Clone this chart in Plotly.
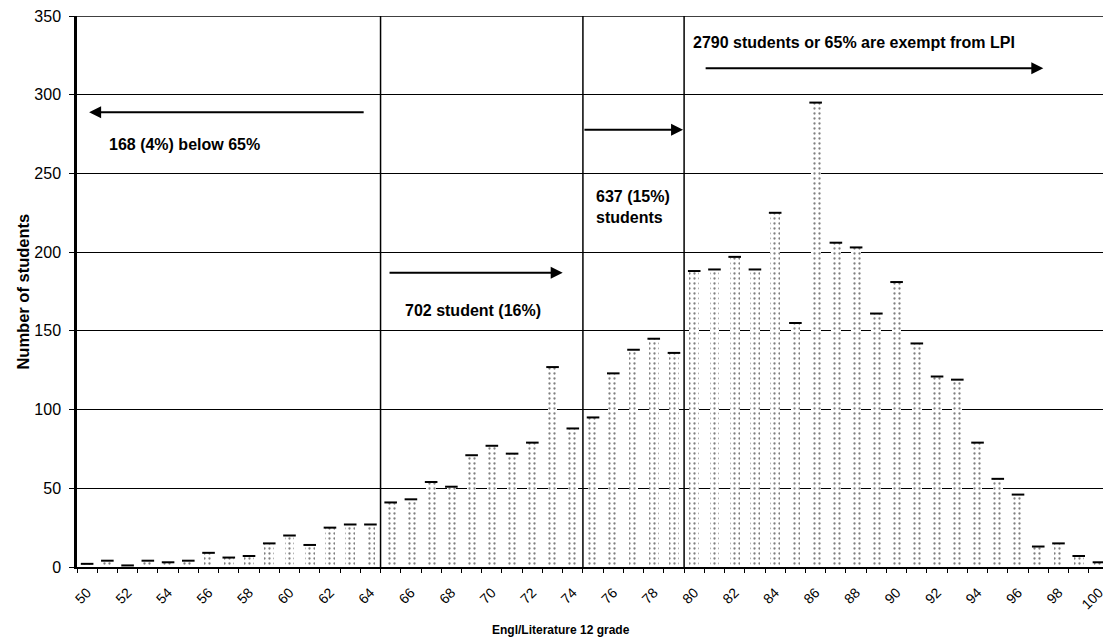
import plotly.graph_objects as go

grades = list(range(50, 101))
counts = [2, 4, 1, 4, 3, 4, 9, 6, 7, 15, 20, 14, 25, 27, 27,
          41, 43, 54, 51, 71, 77, 72, 79, 127, 88,
          95, 123, 138, 145, 136,
          188, 189, 197, 189, 225, 155, 295, 206, 203, 161, 181, 142, 121, 119, 79, 56, 46, 13, 15, 7, 3]

x_tick_vals = list(range(50, 101, 2))
x_tick_text = [str(v) for v in x_tick_vals]
y_tick_vals = list(range(0, 351, 50))

cut_lines = [64.5, 74.5, 79.5]

FONT = "Arial, Liberation Sans, sans-serif"

fig = go.Figure()
fig.add_trace(go.Bar(
    x=grades, y=counts, width=0.48,
    marker=dict(color="white", line=dict(width=0),
                pattern=dict(shape=".", fgcolor="#000000", bgcolor="white",
                             size=5, solidity=0.17)),
    hoverinfo="x+y", showlegend=False,
))
fig.add_trace(go.Scatter(
    x=grades, y=counts, mode="markers",
    marker=dict(symbol="line-ew-open", size=9, color="black",
                line=dict(width=2, color="black")),
    hoverinfo="skip", showlegend=False,
))

for xv in cut_lines:
    fig.add_shape(type="line", x0=xv, x1=xv, y0=0, y1=350, xref="x", yref="y",
                  line=dict(color="black", width=1.5))
fig.add_shape(type="line", x0=0, x1=1, xref="paper", y0=350, y1=350, yref="y",
              line=dict(color="black", width=1.5))

def arrow(x_from, x_to, y):
    fig.add_annotation(x=x_to, y=y, ax=x_from, ay=y, xref="x", yref="y",
                       axref="x", ayref="y", text="", showarrow=True,
                       arrowhead=2, arrowsize=1.2, arrowwidth=2, arrowcolor="black")

def label(x, y, text):
    fig.add_annotation(x=x, y=y, xref="x", yref="y", text=text, showarrow=False,
                       xanchor="left", yanchor="middle", align="left",
                       font=dict(family=FONT, size=16, color="black", weight="bold"))

arrow(63.74, 50.1, 288.8)
label(50.98, 268.1, "168 (4%) below 65%")
arrow(64.87, 73.5, 186.9)
label(65.61, 163.2, "702 student (16%)")
arrow(74.5, 79.45, 277.7)
label(75.07, 228.7, "637 (15%)<br>students")
arrow(80.49, 97.25, 316.8)
label(79.85, 333.4, "2790 students or 65% are exempt from LPI")

fig.add_annotation(x=0.472, y=-0.1143, xref="paper", yref="paper",
                   text="Engl/Literature 12 grade", showarrow=False,
                   xanchor="center", yanchor="middle",
                   font=dict(family=FONT, size=12, color="black", weight="bold"))
fig.add_annotation(x=-0.0535, y=0.5, xref="paper", yref="paper",
                   text="Number of students", showarrow=False, textangle=-90,
                   xanchor="center", yanchor="middle",
                   font=dict(family=FONT, size=16.5, color="black", weight="bold"))

fig.update_layout(
    width=1106, height=642,
    margin=dict(l=77, r=0, t=16, b=75),
    paper_bgcolor="white", plot_bgcolor="white",
    bargap=0, showlegend=False,
    font=dict(family=FONT, size=13, color="black"),
    xaxis=dict(range=[49.5, 100.2], tickmode="array", tickvals=x_tick_vals,
               ticktext=x_tick_text, tickangle=-45, ticks="", showgrid=False,
               zeroline=False, showline=True, linecolor="black", linewidth=2,
               ticklabelstandoff=10, ticklabeloverflow="allow",
               tickfont=dict(family=FONT, size=14, color="black"),
               minor=dict(ticks="outside", ticklen=4, tickcolor="black",
                          tick0=49.5, dtick=1, showgrid=False)),
    yaxis=dict(range=[0, 350], tickmode="array", tickvals=y_tick_vals,
               ticks="outside", ticklen=5, tickcolor="black",
               ticklabelstandoff=5, ticklabeloverflow="allow",
               showgrid=True, gridcolor="black", gridwidth=1,
               zeroline=False, showline=True, linecolor="black", linewidth=2.5,
               tickfont=dict(family=FONT, size=16, color="black")),
)

fig.write_html("out.html", config={"displayModeBar": False},
               post_script="document.body.style.margin='0';")
